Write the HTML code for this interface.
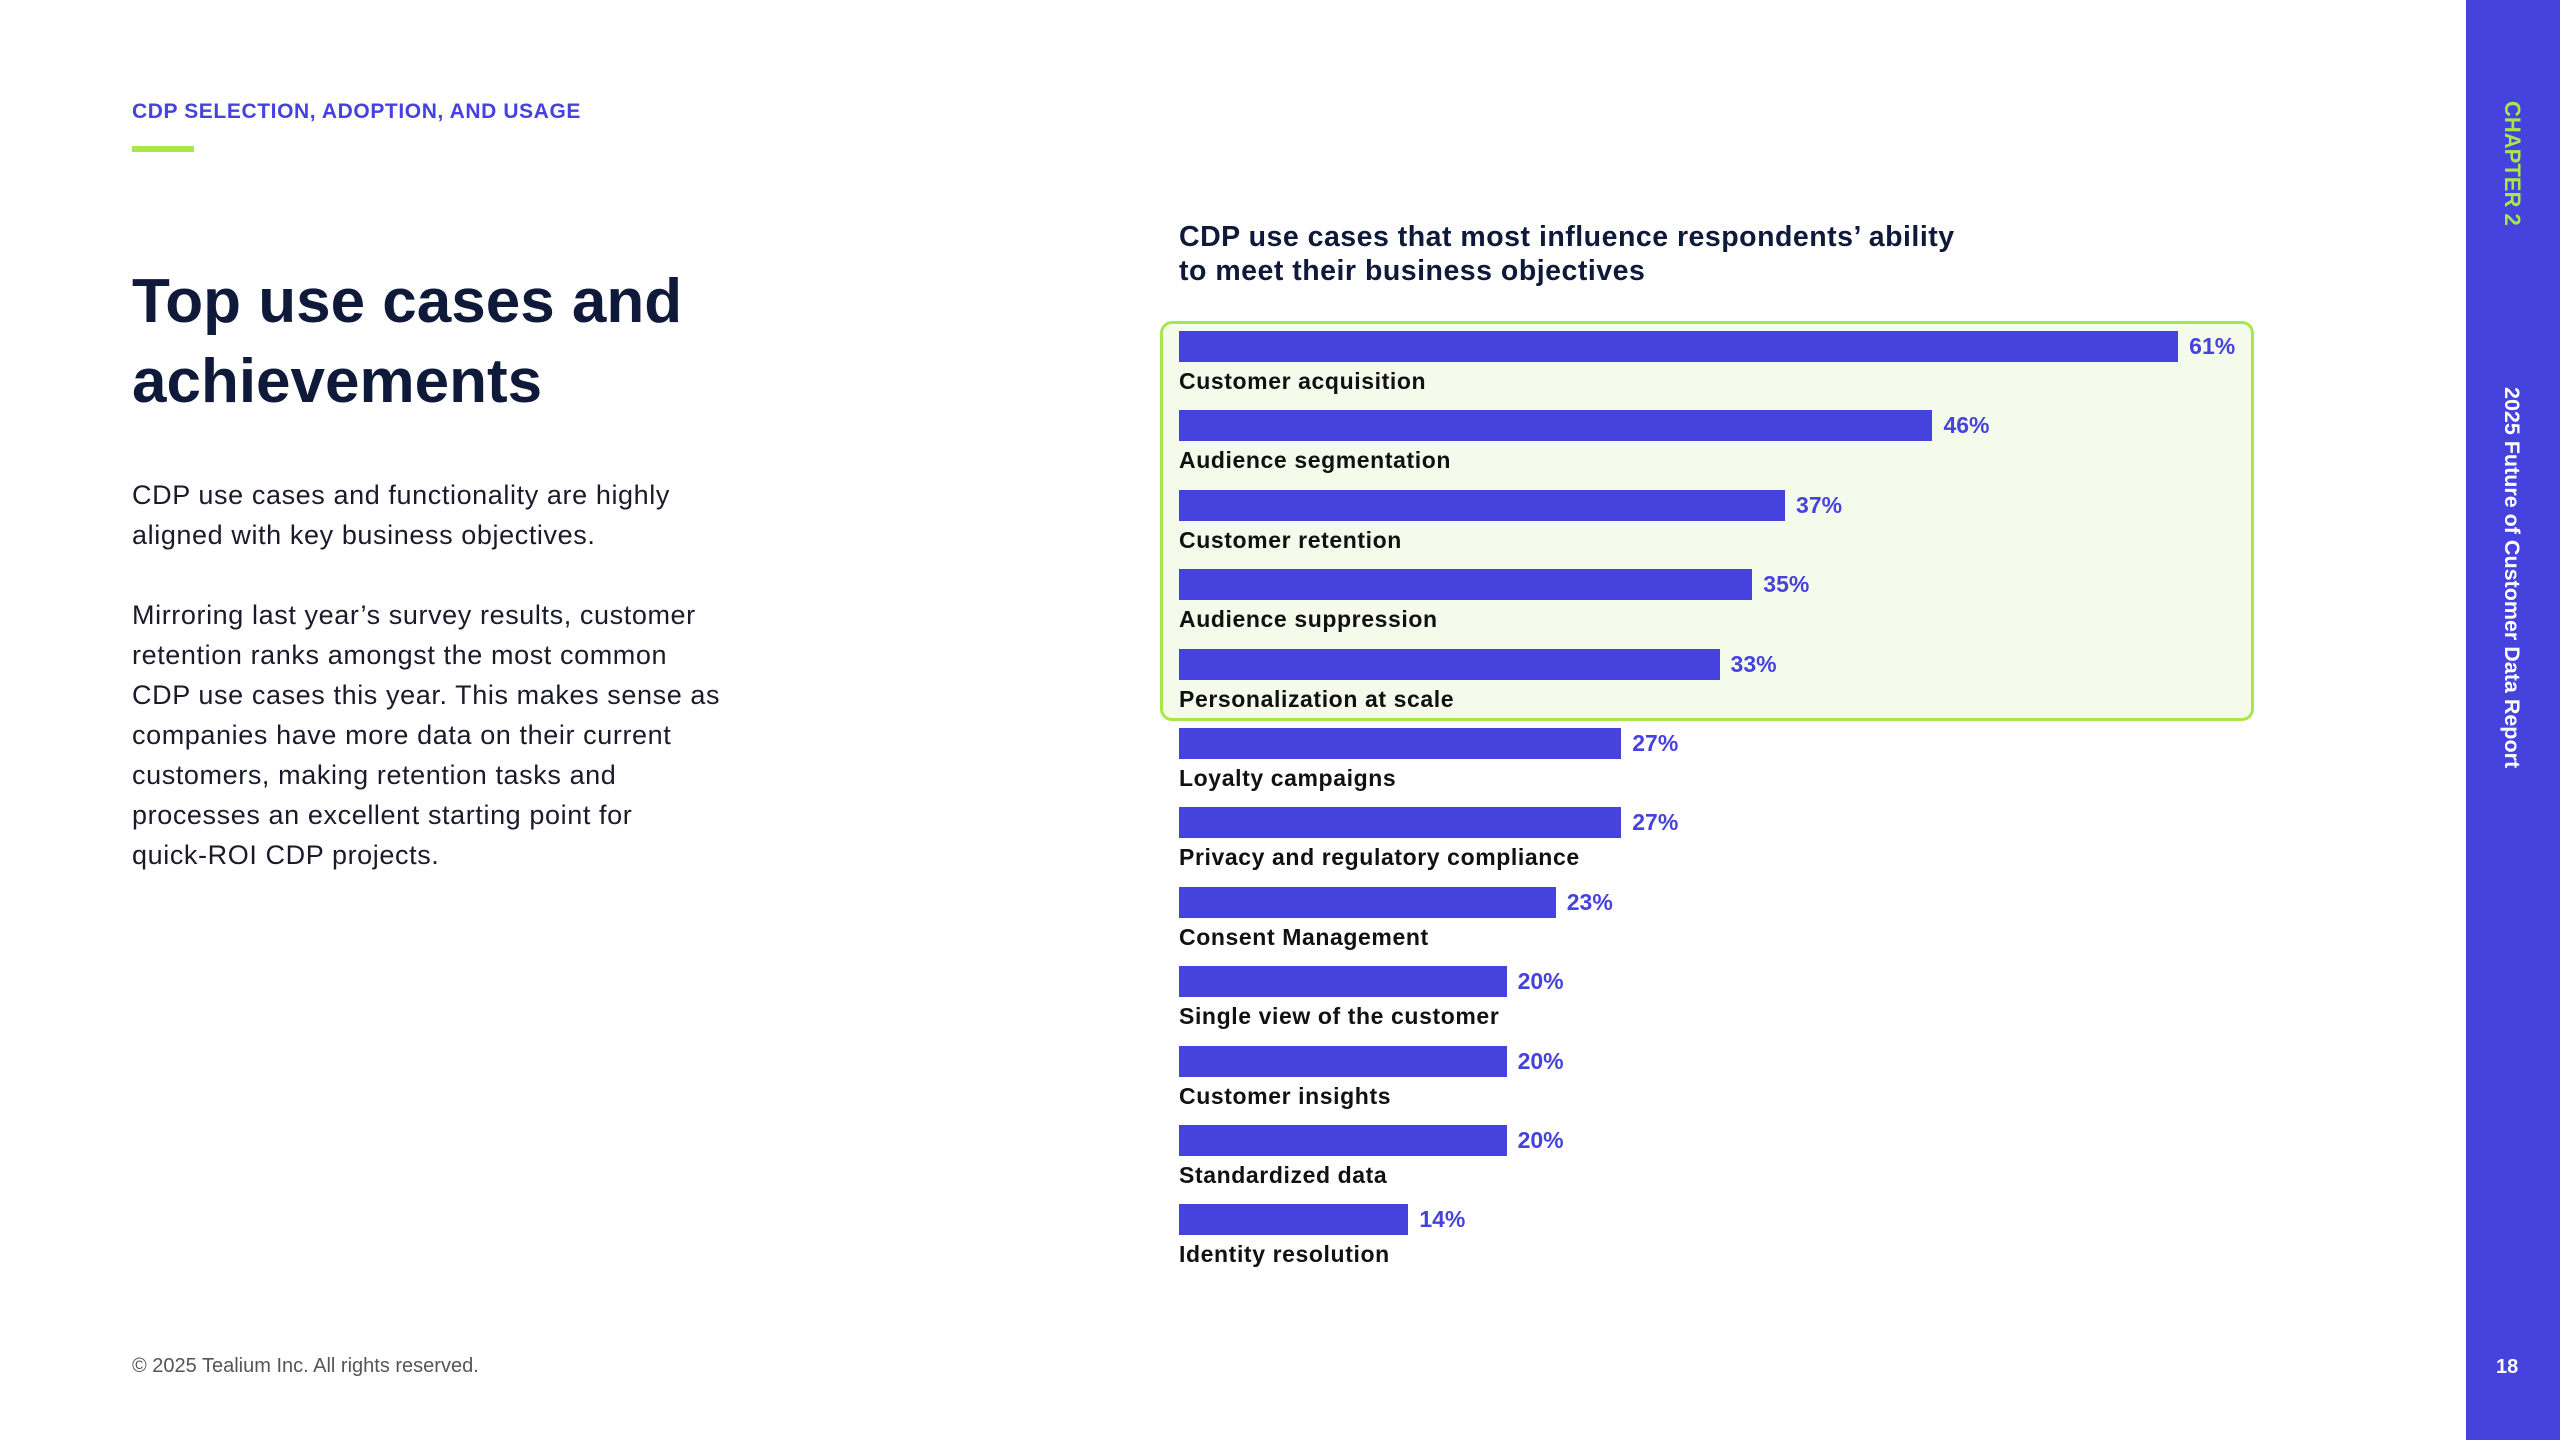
<!DOCTYPE html>
<html><head><meta charset="utf-8">
<style>
html,body{margin:0;padding:0}
body{width:2560px;height:1440px;position:relative;background:#fff;font-family:"Liberation Sans",sans-serif;overflow:hidden;color:#0f1a3a}
.abs{position:absolute}
#sidebar{position:absolute;left:2466px;top:0;width:94px;height:1440px;background:#4642de}
.vt{position:absolute;writing-mode:vertical-rl;font-weight:bold;font-size:22px;white-space:nowrap}
.bar{position:absolute;height:31px;background:#4642de}
.val{position:absolute;font-weight:bold;font-size:23px;color:#4642de;line-height:31px}
.lab{position:absolute;font-weight:bold;font-size:23px;color:#111;white-space:nowrap;letter-spacing:0.6px}
.body p{margin:0 0 40px 0}
</style></head><body>
<div class="abs" style="left:132px;top:100px;font-size:21px;font-weight:bold;color:#4642de;letter-spacing:0.6px">CDP SELECTION, ADOPTION, AND USAGE</div>
<div class="abs" style="left:132px;top:146px;width:62px;height:6px;background:#a6e84a"></div>
<div class="abs" style="left:132px;top:262px;font-size:62px;font-weight:bold;line-height:80px;color:#0f1a3a">Top use cases and<br>achievements</div>
<div class="abs body" style="left:132px;top:475px;width:600px;font-size:27px;line-height:40px;color:#1a1a2a;letter-spacing:0.6px">
<p>CDP use cases and functionality are highly aligned with key business objectives.</p>
<p>Mirroring last year’s survey results, customer retention ranks amongst the most common CDP use cases this year. This makes sense as companies have more data on their current customers, making retention tasks and processes an excellent starting point for <span style="white-space:nowrap">quick-ROI</span> CDP projects.</p>
</div>
<div class="abs" style="left:132px;top:1355px;font-size:20px;color:#555">© 2025 Tealium Inc. All rights reserved.</div>

<div class="abs" style="left:1179px;top:220px;font-size:28.5px;font-weight:bold;line-height:34px;color:#0f1a3a;letter-spacing:0.5px">CDP use cases that most influence respondents’ ability<br>to meet their business objectives</div>
<div class="abs" style="left:1160px;top:321px;width:1088px;height:394px;border:3px solid #a6e84a;border-radius:12px;background:#f5fbea"></div>
<div id="chart"></div>

<div id="sidebar">
<div class="vt" style="left:33px;top:101px;color:#a6e84a;font-size:22px">CHAPTER 2</div>
<div class="vt" style="left:33px;top:387px;color:#fff;font-size:21.5px">2025 Future of Customer Data Report</div>
<div class="abs" style="left:30px;top:1356px;color:#fff;font-weight:bold;font-size:20px">18</div>
</div>

<script>
const categories = ["Customer acquisition","Audience segmentation","Customer retention","Audience suppression","Personalization at scale","Loyalty campaigns","Privacy and regulatory compliance","Consent Management","Single view of the customer","Customer insights","Standardized data","Identity resolution"];
const values = [61,46,37,35,33,27,27,23,20,20,20,14];
const valueLabels = ["61%","46%","37%","35%","33%","27%","27%","23%","20%","20%","20%","14%"];
const x0 = 1179, pxPer = 16.38, y0 = 331, rowH = 79.4;
const xScale = v => v * pxPer;
const yScale = i => y0 + i * rowH;
const chart = document.getElementById('chart');
values.forEach((v,i)=>{
  const y = yScale(i);
  const b = document.createElement('div');
  b.className='bar';
  b.style.left=x0+'px'; b.style.top=y+'px'; b.style.width=xScale(v)+'px';
  
  
  chart.appendChild(b);
  const t = document.createElement('div');
  t.className='val';
  t.textContent=valueLabels[i];
  t.style.left=(x0+xScale(v)+11)+'px'; t.style.top=y+'px';
  
  
  chart.appendChild(t);
  const l = document.createElement('div');
  l.className='lab';
  l.textContent=categories[i];
  l.style.left=x0+'px'; l.style.top=(y+37)+'px';
  
  
  chart.appendChild(l);
});
</script>
</body></html>
